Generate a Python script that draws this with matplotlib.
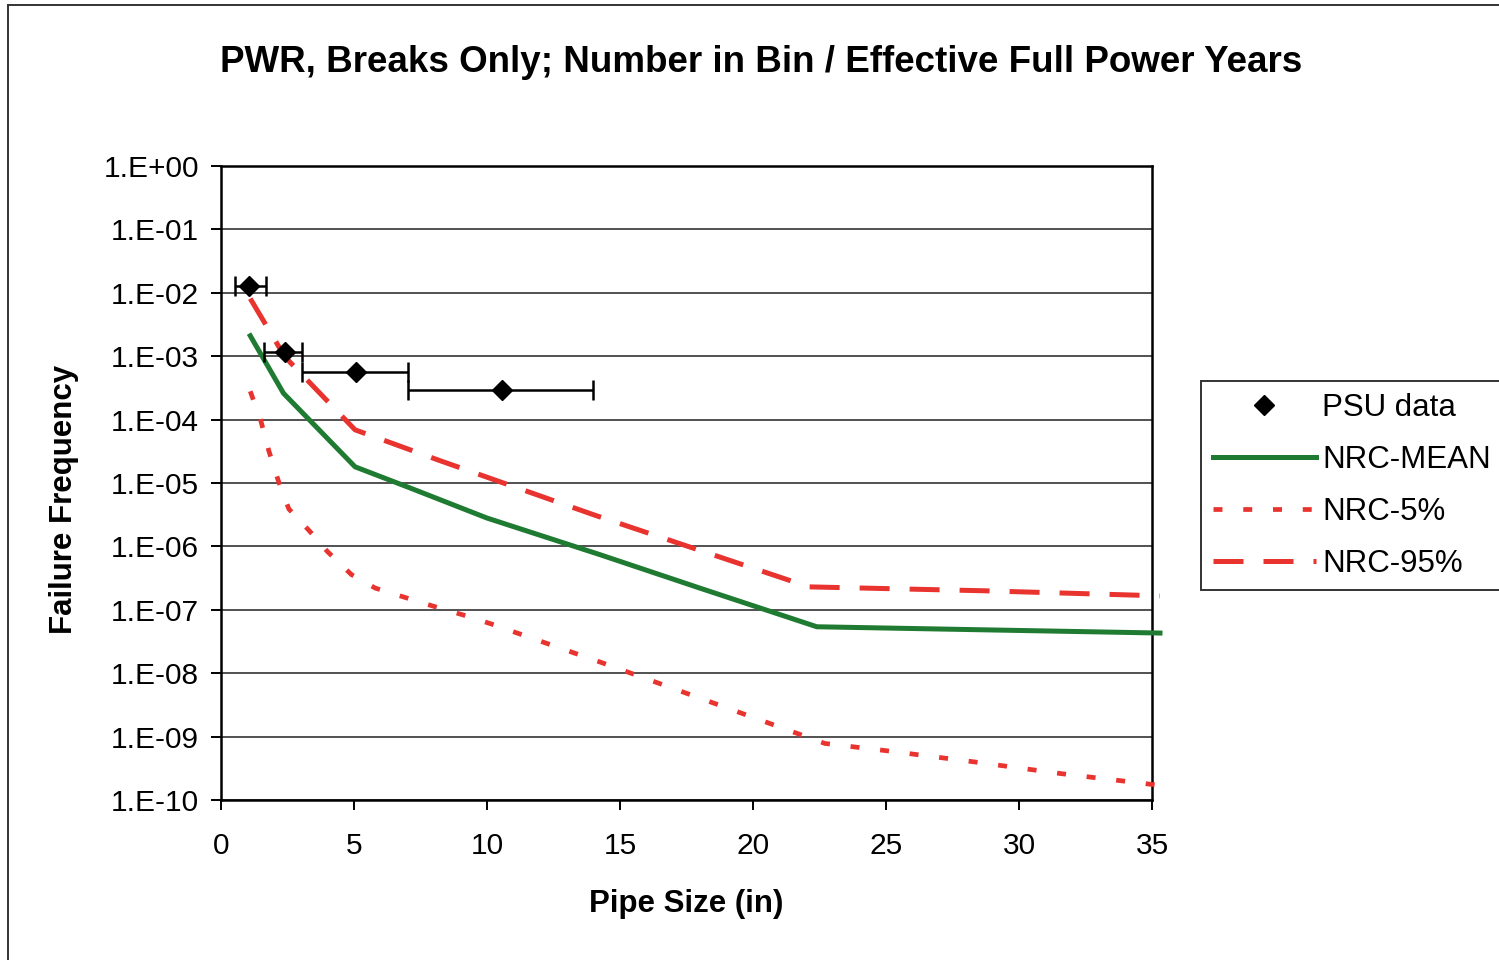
import math

import matplotlib
matplotlib.use("Agg")
import matplotlib.pyplot as plt
from matplotlib.lines import Line2D
from matplotlib.ticker import FixedLocator, FuncFormatter

plt.rcParams['font.family'] = ['Liberation Sans', 'DejaVu Sans']

# PSU data: bin centre, frequency and bin edges (in)
psu_size = [1.06, 2.41, 5.06, 10.55]
psu_freq = [1.28e-2, 1.18e-3, 5.6e-4, 2.9e-4]
psu_bin_lo = [0.53, 1.63, 3.03, 7.04]
psu_bin_hi = [1.68, 3.03, 7.04, 14.0]

# NRC mean curve
mean_size = [1.1, 2.35, 5.04, 7.0, 10.0, 14.25, 18.0, 22.4, 35.3]
mean_freq = [2.1e-3, 2.6e-4, 1.8e-5, 8.7e-6, 2.8e-6, 7.4e-7, 2.2e-7, 5.4e-8, 4.3e-8]

# NRC 5th percentile
p05_size = [1.1, 1.5, 1.8, 2.15, 2.55, 3.3, 4.0, 4.9, 5.8, 6.85, 7.95, 9.1,
            10.15, 14.25, 18.5, 22.7, 25.0, 28.3, 31.6, 35.1]
p05_freq = [2.8e-4, 9.5e-5, 3.2e-5, 1.1e-5, 3.9e-6, 1.8e-6, 8.3e-7, 3.6e-7,
            2.2e-7, 1.6e-7, 1.15e-7, 8.3e-8, 6.0e-8, 1.5e-8, 3.4e-9, 7.8e-10,
            6.0e-10, 4.0e-10, 2.6e-10, 1.74e-10]

# NRC 95th percentile
p95_size = [1.1, 2.4, 5.04, 8.17, 14.06, 22.1, 28.6, 35.3]
p95_freq = [8.1e-3, 9.8e-4, 6.9e-5, 2.3e-5, 3.1e-6, 2.3e-7, 2.0e-7, 1.66e-7]

y_ticks = [1e0, 1e-1, 1e-2, 1e-3, 1e-4, 1e-5, 1e-6, 1e-7, 1e-8, 1e-9, 1e-10]
x_ticks = [0, 5, 10, 15, 20, 25, 30, 35]

GREEN = '#1f7a32'
RED = '#e8332f'

W, H = 1499, 960
fig = plt.figure(figsize=(W / 100, H / 100), dpi=100)
fig.patch.set_facecolor('white')

ax = fig.add_axes([221 / W, 1 - 800 / H, (1152 - 221) / W, (800 - 166) / H])

# chart border (cropped at right and bottom)
fig.add_artist(Line2D([8 / W, 8 / W], [0, 1 - 5 / H], transform=fig.transFigure,
                      color='#333333', lw=1.4))
fig.add_artist(Line2D([8 / W, 1], [1 - 5 / H, 1 - 5 / H], transform=fig.transFigure,
                      color='#333333', lw=1.4))

xerr = [[c - lo for c, lo in zip(psu_size, psu_bin_lo)],
        [hi - c for c, hi in zip(psu_size, psu_bin_hi)]]
ax.errorbar(psu_size, psu_freq, xerr=xerr, fmt='none', ecolor='black',
            elinewidth=1.8, capsize=7, capthick=1.8, zorder=5)
ax.plot(psu_size, psu_freq, 'D', color='black', ms=10, label='PSU data', zorder=6)

ax.plot(mean_size, mean_freq, color=GREEN, lw=3.6, label='NRC-MEAN',
        clip_on=False, zorder=4)
ax.plot(p05_size, p05_freq, color=RED, lw=3.4, dashes=(1.9, 4.4),
        label='NRC-5%', clip_on=False, zorder=4)
ax.plot(p95_size, p95_freq, color=RED, lw=3.6, dashes=(6.0, 4.0),
        label='NRC-95%', clip_on=False, zorder=4)

ax.set_yscale('log')
ax.set_ylim(1e-10, 1)
ax.set_xlim(0, 35)
ax.yaxis.set_major_locator(FixedLocator(y_ticks))
ax.yaxis.set_minor_locator(FixedLocator([]))
ax.yaxis.set_major_formatter(FuncFormatter(
    lambda v, pos: '1.E%+03d' % round(math.log10(v))))
ax.set_xticks(x_ticks)

ax.grid(True, axis='y', color='#222222', lw=1.1)
ax.set_axisbelow(True)
for s in ax.spines.values():
    s.set_linewidth(1.8)
    s.set_color('black')

ax.tick_params(axis='both', which='major', direction='out', length=7,
               width=1.4, labelsize=21.5)
ax.tick_params(axis='y', pad=9)
ax.tick_params(axis='x', pad=16)

ax.set_xlabel('Pipe Size (in)', fontsize=22.5, fontweight='bold')
ax.xaxis.set_label_coords(0.5, -0.14)
ax.set_ylabel('Failure Frequency', fontsize=22.5, fontweight='bold')
ax.yaxis.set_label_coords(-0.153, 0.474)

fig.text(761 / W, 1 - 63 / H,
         'PWR, Breaks Only; Number in Bin / Effective Full Power Years',
         fontsize=26.5, fontweight='bold', ha='center', va='center')

leg = fig.legend(loc='upper left', bbox_to_anchor=(1201 / W, 1 - 381 / H),
                 bbox_transform=fig.transFigure, fontsize=22.5, frameon=True,
                 fancybox=False, edgecolor='black', handlelength=3.3,
                 handletextpad=0.2, labelspacing=0.7, borderpad=0.38,
                 borderaxespad=0, numpoints=1)
leg.get_frame().set_linewidth(1.4)

fig.savefig('out.png', dpi=100, facecolor='white')
